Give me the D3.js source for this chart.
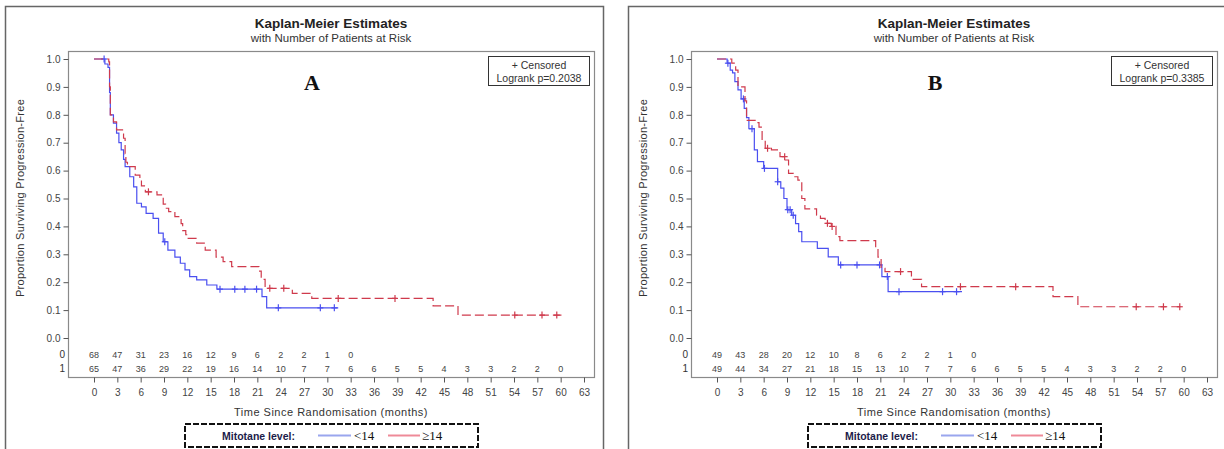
<!DOCTYPE html>
<head>
  <meta charset="utf-8">
  <script src="https://cdnjs.cloudflare.com/ajax/libs/d3/7.8.5/d3.min.js"></script>
</head>

<style>
body {
  margin: 0;
  background-color: #fff;
}
svg text {
  font-family: "Liberation Sans", Arial, sans-serif;
  fill: #333;
}
.frame {
  fill: none;
  stroke: #666;
  stroke-width: 1.5;
}
.plotframe {
  fill: none;
  stroke: #8a8a8a;
  stroke-width: 1.2;
}
.axis path { display: none; }
.axis line { stroke: #555; }
.axis text { font-size: 10px; fill: #444; }
.risk { font-size: 9px; fill: #444; }
</style>

<body>
<svg id="chart" width="1224" height="449"></svg>
</body>

<script>

// ticks
var xTicks = d3.range(0, 64, 3);
var yTicks = [0, 0.1, 0.2, 0.3, 0.4, 0.5, 0.6, 0.7, 0.8, 0.9, 1.0];

// panel A -- numbers at risk (group 0 = <14, group 1 = >=14)
var aRisk0 = [68, 47, 31, 23, 16, 12, 9, 6, 2, 2, 1, 0];
var aRisk1 = [65, 47, 36, 29, 22, 19, 16, 14, 10, 7, 7, 6, 6, 5, 5, 4, 3, 3, 2, 2, 0];

// panel A -- <14 step curve
var aLowT = [0, 1.4, 1.8, 2.0, 2.1, 2.5, 2.9, 3.2, 3.5, 3.8, 4.0, 4.6, 5.1, 5.5, 6.1, 6.7, 7.6, 8.3, 8.9, 9.5, 10.4, 11.1, 11.7, 12.3, 13.2, 14.5, 15.8, 21.6, 22.2];
var aLowS = [1.0, 0.982, 0.97, 0.88, 0.80, 0.77, 0.734, 0.70, 0.674, 0.64, 0.614, 0.578, 0.542, 0.483, 0.47, 0.447, 0.429, 0.376, 0.345, 0.315, 0.29, 0.268, 0.244, 0.22, 0.208, 0.19, 0.175, 0.148, 0.108];
var aLowEnd = 31.4;
var aLowCens = [1.3, 9.1, 16.2, 18.1, 19.4, 20.9, 23.7, 29.1, 30.9];

// panel A -- >=14 step curve
var aHighT = [0, 1.9, 2.0, 2.1, 2.5, 2.9, 3.8, 4.0, 4.1, 4.3, 5.3, 5.9, 6.1, 6.6, 8.1, 8.9, 9.2, 9.6, 10.4, 11.2, 11.4, 11.8, 12.0, 13.2, 14.3, 15.7, 16.6, 17.7, 21.2, 21.5, 22.0, 25.5, 28.0, 43.6, 46.8];
var aHighS = [1.0, 0.99, 0.90, 0.80, 0.775, 0.746, 0.716, 0.66, 0.63, 0.614, 0.584, 0.565, 0.545, 0.524, 0.513, 0.48, 0.465, 0.453, 0.435, 0.41, 0.385, 0.37, 0.357, 0.34, 0.315, 0.29, 0.274, 0.256, 0.24, 0.21, 0.178, 0.16, 0.142, 0.115, 0.082];
var aHighEnd = 60.1;
var aHighCens = [7.0, 22.6, 24.4, 31.4, 38.7, 54.1, 57.6, 59.5];

// panel B -- numbers at risk
var bRisk0 = [49, 43, 28, 20, 12, 10, 8, 6, 2, 2, 1, 0];
var bRisk1 = [49, 44, 34, 27, 21, 18, 15, 13, 10, 7, 7, 6, 6, 5, 5, 4, 3, 3, 2, 2, 0];

// panel B -- <14 step curve
var bLowT = [0, 1.3, 1.7, 2.0, 2.3, 2.7, 3.1, 3.5, 3.8, 4.1, 4.8, 5.2, 6.0, 7.8, 8.2, 8.6, 9.0, 9.6, 10.1, 10.5, 10.9, 12.9, 14.3, 15.6, 21.2, 22.0];
var bLowS = [1.0, 0.985, 0.96, 0.95, 0.919, 0.889, 0.857, 0.823, 0.79, 0.75, 0.674, 0.632, 0.608, 0.56, 0.537, 0.50, 0.46, 0.44, 0.41, 0.381, 0.345, 0.321, 0.291, 0.262, 0.22, 0.166];
var bLowEnd = 31.5;
var bLowCens = [1.4, 3.4, 4.5, 6.1, 7.8, 9.1, 9.4, 9.8, 15.9, 18.0, 20.9, 21.9, 23.4, 29.0, 30.8];

// panel B -- >=14 step curve
var bHighT = [0, 1.9, 2.4, 2.7, 3.6, 3.8, 4.9, 5.4, 5.8, 6.2, 7.0, 8.1, 8.8, 9.2, 9.8, 10.4, 10.9, 11.3, 12.8, 13.3, 13.9, 14.7, 15.3, 15.8, 20.4, 20.7, 21.1, 21.6, 25.0, 26.3, 43.2, 46.4];
var bHighS = [1.0, 0.985, 0.96, 0.90, 0.85, 0.78, 0.772, 0.756, 0.71, 0.68, 0.674, 0.65, 0.638, 0.59, 0.578, 0.566, 0.50, 0.463, 0.44, 0.429, 0.411, 0.40, 0.363, 0.349, 0.32, 0.29, 0.25, 0.238, 0.21, 0.184, 0.148, 0.112];
var bHighEnd = 59.7;
var bHighCens = [6.5, 8.7, 14.2, 14.8, 23.6, 31.3, 38.4, 53.9, 57.4, 59.5];

var panels = [
  {ox: 0, letter: 'A', p: '0.2038', risk0: aRisk0, risk1: aRisk1,
   low: {t: aLowT, s: aLowS, end: aLowEnd, cens: aLowCens},
   high: {t: aHighT, s: aHighS, end: aHighEnd, cens: aHighCens}},
  {ox: 623, letter: 'B', p: '0.3385', risk0: bRisk0, risk1: bRisk1,
   low: {t: bLowT, s: bLowS, end: bLowEnd, cens: bLowCens},
   high: {t: bHighT, s: bHighS, end: bHighEnd, cens: bHighCens}}
];

var blue = '#4a4ff0';
var red = '#cf3a4c';

var svg = d3.select('#chart');

function survAt(c, t) {
  var i = d3.bisectRight(c.t, t) - 1;
  return c.s[Math.max(i, 0)];
}

function drawPanel(cfg) {
  var ox = cfg.ox;
  var g = svg.append('g');

  g.append('rect').attr('class', 'frame')
    .attr('x', ox + 5.5).attr('y', 6.5).attr('width', 598).attr('height', 470);

  g.append('text').attr('x', ox + 331).attr('y', 28)
    .attr('text-anchor', 'middle').style('font-size', '13.5px').style('font-weight', 'bold')
    .style('fill', '#222').text('Kaplan-Meier Estimates');
  g.append('text').attr('x', ox + 331).attr('y', 42)
    .attr('text-anchor', 'middle').style('font-size', '11.5px')
    .text('with Number of Patients at Risk');

  var x = d3.scaleLinear().domain([0, 63]).range([ox + 94, ox + 584]);
  var y = d3.scaleLinear().domain([0, 1]).range([338, 59]);

  g.append('rect').attr('class', 'plotframe')
    .attr('x', ox + 68.5).attr('y', 51.5).attr('width', 526).attr('height', 326);

  g.append('g').attr('class', 'axis')
    .attr('transform', 'translate(' + (ox + 68.5) + ',0)')
    .call(d3.axisLeft(y).tickValues(yTicks).tickSize(5).tickPadding(3).tickFormat(d3.format('.1f')));

  g.append('g').attr('class', 'axis')
    .attr('transform', 'translate(0,377.5)')
    .call(d3.axisBottom(x).tickValues(xTicks).tickSize(5).tickPadding(6));

  g.append('text')
    .attr('transform', 'translate(' + (ox + 24) + ',198) rotate(-90)')
    .attr('text-anchor', 'middle').style('font-size', '11px').style('letter-spacing', '0.3px')
    .text('Proportion Surviving Progression-Free');

  g.append('text').attr('x', ox + 331).attr('y', 416)
    .attr('text-anchor', 'middle').style('font-size', '11px').style('letter-spacing', '0.5px')
    .text('Time Since Randomisation (months)');

  // numbers at risk
  [[cfg.risk0, 358, '0'], [cfg.risk1, 372, '1']].forEach(function(r) {
    g.append('text').attr('x', ox + 65).attr('y', r[1])
      .attr('text-anchor', 'end').style('font-size', '10px').text(r[2]);
    g.selectAll(null).data(r[0]).enter().append('text')
      .attr('class', 'risk')
      .attr('x', function(d, i) { return x(xTicks[i]); })
      .attr('y', r[1])
      .attr('text-anchor', 'middle')
      .text(function(d) { return d; });
  });

  var line = d3.line()
    .x(function(d) { return x(d[0]); })
    .y(function(d) { return y(d[1]); })
    .curve(d3.curveStepAfter);

  [[cfg.low, blue, null], [cfg.high, red, '9,4']].forEach(function(c) {
    var curve = c[0];
    var pts = curve.t.map(function(t, i) { return [t, curve.s[i]]; });
    pts.push([curve.end, curve.s[curve.s.length - 1]]);
    g.append('path').datum(pts)
      .attr('d', line)
      .attr('fill', 'none')
      .attr('stroke', c[1])
      .attr('stroke-width', 1.2)
      .attr('stroke-dasharray', c[2]);
    var cens = g.selectAll(null).data(curve.cens).enter().append('g')
      .attr('transform', function(t) {
        return 'translate(' + x(t) + ',' + y(survAt(curve, t)) + ')';
      });
    cens.append('line').attr('y1', -3.5).attr('y2', 3.5)
      .attr('stroke', c[1]).attr('stroke-width', 1.2);
    cens.append('line').attr('x1', -3).attr('x2', 3)
      .attr('stroke', c[1]).attr('stroke-width', 1.2);
  });

  g.append('text').attr('x', ox + 312).attr('y', 90)
    .attr('text-anchor', 'middle')
    .style('font-family', '"Liberation Serif", "Times New Roman", serif')
    .style('font-size', '22px').style('font-weight', 'bold').style('fill', '#111')
    .text(cfg.letter);

  // censored / logrank box
  g.append('rect').attr('x', ox + 488.5).attr('y', 56.5).attr('width', 101).attr('height', 29)
    .attr('fill', '#fff').attr('stroke', '#333').attr('stroke-width', 1);
  g.append('text').attr('x', ox + 539).attr('y', 69)
    .attr('text-anchor', 'middle').style('font-size', '10.5px').text('+ Censored');
  g.append('text').attr('x', ox + 539).attr('y', 82)
    .attr('text-anchor', 'middle').style('font-size', '10.5px').text('Logrank p=' + cfg.p);

  // legend
  g.append('rect').attr('x', ox + 185).attr('y', 424).attr('width', 293).attr('height', 23)
    .attr('fill', 'none').attr('stroke', '#111').attr('stroke-width', 2)
    .attr('stroke-dasharray', '6,2');
  g.append('text').attr('x', ox + 222).attr('y', 439.5)
    .style('font-size', '10.5px').style('font-weight', 'bold').style('fill', '#1c1c4a')
    .text('Mitotane level:');
  g.append('line').attr('x1', ox + 318).attr('x2', ox + 351).attr('y1', 435.5).attr('y2', 435.5)
    .attr('stroke', '#9aa6ee').attr('stroke-width', 2);
  g.append('text').attr('x', ox + 354).attr('y', 440)
    .style('font-family', '"Liberation Serif", "Times New Roman", serif')
    .style('font-size', '13px').style('fill', '#111').text('<14');
  g.append('line').attr('x1', ox + 388).attr('x2', ox + 420).attr('y1', 435.5).attr('y2', 435.5)
    .attr('stroke', '#ee8a98').attr('stroke-width', 2);
  g.append('text').attr('x', ox + 422).attr('y', 440)
    .style('font-family', '"Liberation Serif", "Times New Roman", serif')
    .style('font-size', '13px').style('fill', '#111').text('≥14');
}

panels.forEach(drawPanel);

</script>
